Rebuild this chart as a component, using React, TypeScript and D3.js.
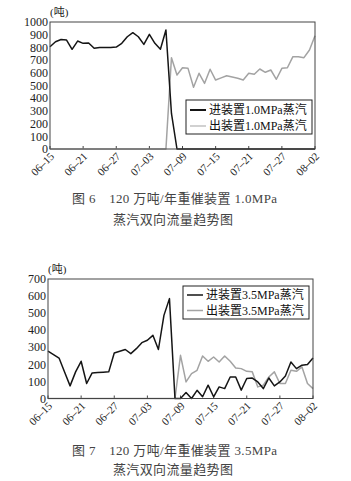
import * as d3 from 'd3';

// x labels, one every 6 days from 06-15 to 08-02
const dateTicks = ['06–15', '06–21', '06–27', '07–03', '07–09', '07–15', '07–21', '07–27', '08–02'];

// 1.0MPa steam (t), daily 06-15 .. 08-02
const in10 = [
    805, 845, 862, 858, 785, 850, 832, 835, 793, 800, 800, 800, 803, 832, 884, 916, 884, 824, 903, 832,
    785, 937, 280, 0, 0, 0, 0, 0, 0, 0, 0, 0, 0, 0, 0, 0, 0, 0, 0, 0,
    0, 0, 0, 0, 0, 0, 0, 0, 0,
];
const out10 = [
    0, 0, 0, 0, 0, 0, 0, 0, 0, 0, 0, 0, 0, 0, 0, 0, 0, 0, 0, 0,
    0, 0, 719, 583, 640, 635, 486, 596, 517, 628, 543, 560, 577, 567, 557, 543, 596, 588, 630, 604,
    622, 549, 635, 640, 727, 727, 719, 780, 892,
];

// 3.5MPa steam (t)
const in35 = [
    277, 257, 237, 155, 74, 156, 218, 88, 150, 152, 154, 156, 267, 277, 287, 263, 292, 327, 341, 370,
    287, 487, 585, 0, 0, 35, 0, 48, 10, 78, 10, 68, 58, 126, 126, 49, 117, 120, 97, 58,
    120, 74, 97, 132, 214, 175, 195, 199, 237,
];
const out35 = [
    0, 0, 0, 0, 0, 0, 0, 0, 0, 0, 0, 0, 0, 0, 0, 0, 0, 0, 0, 0,
    0, 0, 0, 0, 253, 97, 146, 165, 249, 218, 243, 214, 249, 218, 179, 175, 159, 156, 68, 78,
    126, 156, 88, 88, 165, 159, 185, 88, 58,
];

const FONT = "'Liberation Serif', 'Noto Sans CJK SC', serif";
const BLACK = '#151515';
const GRAY = '#a3a3a3';

interface PanelProps {
    left: number;
    right: number;
    top: number;
    bottom: number;
    yMax: number;
    inflow: number[];
    outflow: number[];
    inLabel: string;
    outLabel: string;
    legend: { x0: number; x1: number; y0: number; y1: number; row1: number; row2: number; lx: number };
    inLegendWidth: number;
    outLegendWidth: number;
    caption: [string, string];
    captionY: [number, number];
}

function Panel(p: PanelProps) {
    const x = d3.scaleLinear().domain([0, 48]).range([p.left, p.right]);
    const y = d3.scaleLinear().domain([0, p.yMax]).range([p.bottom, p.top]);
    const line = d3.line<number>().x((_, i) => x(i)).y(d => y(d));
    const lg = p.legend;

    return (
        <g fontFamily={FONT}>
            <text x={p.left} y={p.top - 6} fontSize={11} fill="#222">(吨)</text>
            {y.ticks(p.yMax / 100).map(t => (
                <text key={t} x={p.left - 2} y={y(t)} dy="0.35em" textAnchor="end" fontSize={12} fill="#222">{t}</text>
            ))}
            {dateTicks.map((lab, i) => {
                const tx = x(i * 6);
                return (
                    <g key={lab}>
                        <line x1={tx} x2={tx} y1={p.bottom} y2={p.bottom - 3} stroke="#444" />
                        <text transform={`translate(${tx + 5},${p.bottom + 8}) rotate(-45)`} textAnchor="end" fontSize={11} fill="#222">{lab}</text>
                    </g>
                );
            })}
            <path d={line(p.outflow)!} fill="none" stroke={GRAY} strokeWidth={1.5} strokeLinejoin="round" />
            <path d={line(p.inflow)!} fill="none" stroke={BLACK} strokeWidth={1.5} strokeLinejoin="round" />
            <rect x={p.left} y={p.top} width={p.right - p.left} height={p.bottom - p.top} fill="none" stroke="#444" />

            <rect x={lg.x0} y={lg.y0} width={lg.x1 - lg.x0} height={lg.y1 - lg.y0} fill="#fff" stroke="#222" />
            <line x1={lg.lx} x2={lg.lx + 16} y1={lg.row1} y2={lg.row1} stroke={BLACK} strokeWidth={p.inLegendWidth} />
            <text x={lg.lx + 19} y={lg.row1} dy="0.36em" fontSize={12} fill="#111">{p.inLabel}</text>
            <line x1={lg.lx} x2={lg.lx + 16} y1={lg.row2} y2={lg.row2} stroke={GRAY} strokeWidth={p.outLegendWidth} />
            <text x={lg.lx + 19} y={lg.row2} dy="0.36em" fontSize={12} fill="#111">{p.outLabel}</text>

            <text x={174.5} y={p.captionY[0]} textAnchor="middle" fontSize={13} fill="#444" textLength={205} lengthAdjust="spacing">{p.caption[0]}</text>
            <text x={173} y={p.captionY[1]} textAnchor="middle" fontSize={13} fill="#444" textLength={120} lengthAdjust="spacing">{p.caption[1]}</text>
        </g>
    );
}

export default function App() {
    return (
        <svg width={351} height={481} style={{ position: 'absolute', left: 0, top: 0, background: '#fff' }}>
            <Panel
                left={50} right={315} top={22} bottom={149} yMax={1000}
                inflow={in10} outflow={out10}
                inLabel="进装置1.0MPa蒸汽" outLabel="出装置1.0MPa蒸汽"
                legend={{ x0: 186, x1: 312, y0: 100, y1: 134, row1: 110, row2: 126, lx: 190 }}
                inLegendWidth={2} outLegendWidth={1}
                caption={['图 6　120 万吨/年重催装置 1.0MPa', '蒸汽双向流量趋势图']}
                captionY={[203, 224]}
            />
            <Panel
                left={48} right={313} top={279} bottom={398.5} yMax={700}
                inflow={in35} outflow={out35}
                inLabel="进装置3.5MPa蒸汽" outLabel="出装置3.5MPa蒸汽"
                legend={{ x0: 183, x1: 309, y0: 286, y1: 319, row1: 295, row2: 310.5, lx: 187 }}
                inLegendWidth={1.5} outLegendWidth={1.5}
                caption={['图 7　120 万吨/年重催装置 3.5MPa', '蒸汽双向流量趋势图']}
                captionY={[455, 474]}
            />
        </svg>
    );
}
